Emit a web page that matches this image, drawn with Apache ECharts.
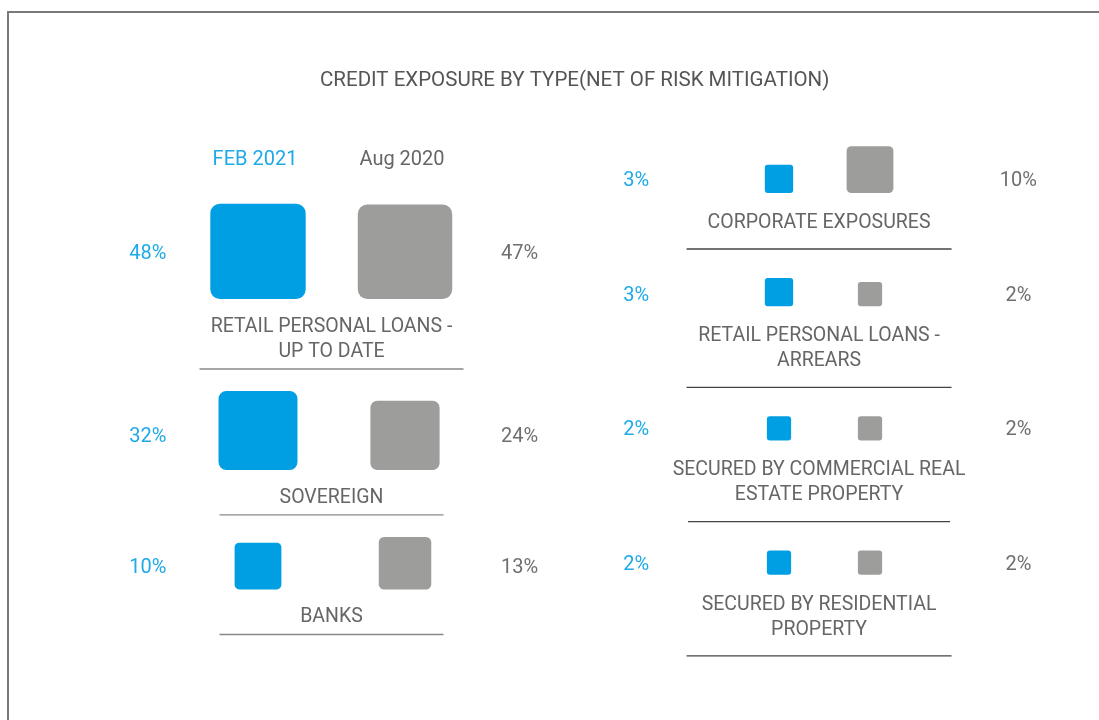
<!DOCTYPE html>
<html>
<head>
<meta charset="utf-8">
<title>Credit exposure by type</title>
<script src="https://cdn.jsdelivr.net/npm/echarts@6/dist/echarts.min.js"></script>
<style>
    html, body { margin: 0; padding: 0; background: #fff; }
    #chart { width: 1099px; height: 720px; }
</style>
</head>
<body>
<div id="chart"></div>
<script>
    // periods (left square = FEB 2021, right square = Aug 2020)
    const periods = ['FEB 2021', 'Aug 2020'];

    // left column
    const leftCategories = ['RETAIL PERSONAL LOANS -\nUP TO DATE', 'SOVEREIGN', 'BANKS'];
    const leftFeb2021 = [48, 32, 10];
    const leftAug2020 = [47, 24, 13];

    // right column
    const rightCategories = [
        'CORPORATE EXPOSURES',
        'RETAIL PERSONAL LOANS -\nARREARS',
        'SECURED BY COMMERCIAL REAL\nESTATE PROPERTY',
        'SECURED BY RESIDENTIAL\nPROPERTY'
    ];
    const rightFeb2021 = [3, 3, 2, 2];
    const rightAug2020 = [10, 2, 2, 2];

    const squareColors = ['#009fe3', '#9d9d9c'];
    const textColors = ['#1eaae7', '#6f6f6f'];
    const font = 'Roboto, "Noto Sans", sans-serif';
    const LINE = 25;

    // square side grows with sqrt of the share
    function side(v) {
        return 6 + 12.9 * Math.sqrt(v);
    }

    // stack rows: each row takes its tallest square, its label lines and the rule under it
    function rowOffsets(names, feb, aug, lay) {
        const out = [0];
        for (let i = 1; i < names.length; i++) {
            const lines = names[i - 1].split('\n').length;
            const below = lay.labelOff + LINE * (lines - 1) + lay.ruleOff;
            const tallest = side(Math.max(feb[i], aug[i]));
            out.push(out[i - 1] + below + lay.gap + tallest);
        }
        return out;
    }

    function columnSeries(index, names, feb, aug, lay) {
        const offs = rowOffsets(names, feb, aug, lay);
        return {
            type: 'custom',
            xAxisIndex: index,
            yAxisIndex: index,
            data: names.map((n, i) => [i, feb[i], aug[i], offs[i]]),
            renderItem: function (params, api) {
                const vals = [api.value(1), api.value(2)];
                const yv = api.value(3);
                const sizes = vals.map(side);
                const base = api.coord([0, yv])[1];
                const children = [];
                for (let k = 0; k < 2; k++) {
                    const cx = api.coord([k, yv])[0];
                    const s = sizes[k];
                    children.push({
                        type: 'rect',
                        shape: { x: cx - s / 2, y: base - s, width: s, height: s, r: Math.max(3, s * 0.1) },
                        style: { fill: squareColors[k] }
                    });
                    children.push({
                        type: 'text',
                        x: api.coord([lay.pctX[k], yv])[0],
                        y: base - Math.min(sizes[0], sizes[1]) / 2 + 2,
                        style: {
                            text: vals[k] + '%',
                            fill: textColors[k],
                            font: '20px ' + font,
                            align: 'center',
                            verticalAlign: 'middle'
                        }
                    });
                }
                const name = names[params.dataIndex];
                const lines = name.split('\n').length;
                const lx = api.coord([lay.labelX, yv])[0];
                children.push({
                    type: 'text',
                    x: lx,
                    y: base + lay.labelOff - LINE / 2,
                    style: {
                        text: name,
                        fill: '#666',
                        font: '19.5px ' + font,
                        lineHeight: LINE,
                        align: 'center',
                        verticalAlign: 'top'
                    }
                });
                const ly = base + lay.labelOff + LINE * (lines - 1) + lay.ruleOff;
                const w = lay.rule[params.dataIndex];
                children.push({
                    type: 'line',
                    shape: { x1: lx - w / 2, y1: ly, x2: lx + w / 2, y2: ly },
                    style: { stroke: lay.ruleColor, lineWidth: 1.3 }
                });
                return { type: 'group', children: children };
            }
        };
    }

    const leftLayout = {
        pctX: [-0.75, 1.78], labelX: 0.5, labelOff: 28, ruleOff: 17, gap: 22,
        rule: [264, 224, 224], ruleColor: '#888'
    };
    const rightLayout = {
        pctX: [-1.57, 2.63], labelX: 0.44, labelOff: 30, ruleOff: 26, gap: 29,
        rule: [265, 265, 262, 265], ruleColor: '#444'
    };

    const chart = echarts.init(document.getElementById('chart'));
    chart.setOption({
        animation: false,
        title: {
            text: 'CREDIT EXPOSURE BY TYPE(NET OF RISK MITIGATION)',
            left: 320,
            top: 70,
            padding: 0,
            textStyle: { color: '#555', fontSize: 20.5, fontWeight: 'normal', fontFamily: font }
        },
        graphic: [{
            type: 'rect',
            shape: { x: 8, y: 12, width: 1200, height: 800 },
            style: { fill: 'none', stroke: '#7a7a7a', lineWidth: 2 }
        }],
        // y axes run in pixels below the first row's baseline
        grid: [
            { left: 258, right: 694, top: 299, height: 300 },
            { left: 779, right: 229, top: 193, height: 400 }
        ],
        xAxis: [
            { type: 'value', gridIndex: 0, min: 0, max: 1, show: false },
            { type: 'value', gridIndex: 1, min: 0, max: 1, show: false }
        ],
        yAxis: [
            { type: 'value', gridIndex: 0, min: 0, max: 300, inverse: true, show: false },
            { type: 'value', gridIndex: 1, min: 0, max: 400, inverse: true, show: false }
        ],
        series: [
            {
                // period headers above the left column
                type: 'custom',
                xAxisIndex: 0,
                yAxisIndex: 0,
                data: periods.map((p, i) => [i, -(side(Math.max(leftFeb2021[0], leftAug2020[0])) + 44)]),
                renderItem: function (params, api) {
                    const p = api.coord([api.value(0), api.value(1)]);
                    return {
                        type: 'text',
                        x: p[0] - 3,
                        y: p[1],
                        style: {
                            text: periods[params.dataIndex],
                            fill: params.dataIndex === 0 ? textColors[0] : '#666',
                            font: '20px ' + font,
                            align: 'center',
                            verticalAlign: 'middle'
                        }
                    };
                }
            },
            columnSeries(0, leftCategories, leftFeb2021, leftAug2020, leftLayout),
            columnSeries(1, rightCategories, rightFeb2021, rightAug2020, rightLayout)
        ]
    });
</script>
</body>
</html>
